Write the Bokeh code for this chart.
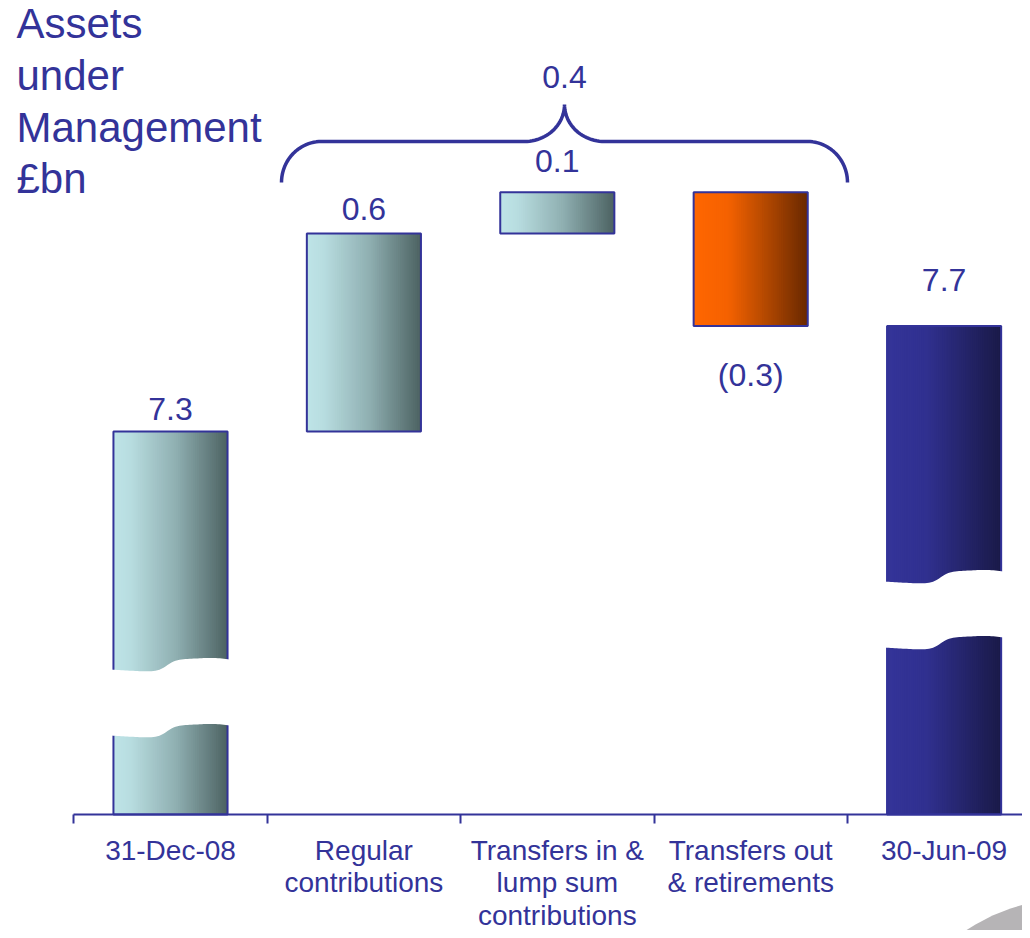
import numpy as np
from bokeh.plotting import figure
from bokeh.models import Range1d, LinearAxis, FixedTicker
from bokeh.core.properties import value
from bokeh.embed import file_html
from bokeh.resources import INLINE

# ---------------- data ----------------
title_lines = ["Assets", "under", "Management", "£bn"]
categories = ["31-Dec-08", "Regular\ncontributions", "Transfers in &\nlump sum\ncontributions",
              "Transfers out\n& retirements", "30-Jun-09"]
label_values = [7.3, 0.6, 0.1, -0.3, 7.7]     # printed values (£bn)
net_change_label = 0.4                         # printed over the brace
start_total = 7.30                             # drawn levels
changes = [0.600, 0.125, -0.405]
end_total = 7.62
bar_kind = ["teal", "teal", "teal", "orange", "blue"]

# ---------------- layout helpers (pixel -> data) ----------------
FONT = value("Liberation Sans")
BLUE = "#333399"
W, H = 1022, 930
X_TICK0, X_STEP = 73.3, 193.4        # x of first category boundary, px per category
Y_REF, KY = 431.0, 330.0             # y of start_total, px per £bn
BASE_SHIFT = 0.38                    # em offset of rendered alphabetic baseline


def dx(px):
    return (px - X_TICK0) / X_STEP - 0.5


def dy(py):
    return start_total + (Y_REF - py) / KY


def ty(baseline_px, fs):
    return dy(baseline_px - BASE_SHIFT * fs)


floor = dy(814)

# bar extents
bottoms, tops = [floor], [start_total]
level = start_total
for c in changes:
    bottoms.append(min(level, level + c))
    tops.append(max(level, level + c))
    level += c
bottoms.append(floor)
tops.append(end_total)

BAR_W = 0.59
stops = {
    "teal": [(0.0, "#BEE4E7"), (0.15, "#B8DDE0"), (0.55, "#8FAFB1"), (1.0, "#4C6262")],
    "orange": [(0.0, "#FF6600"), (0.3, "#F56200"), (0.65, "#B04700"), (1.0, "#682800")],
    "blue": [(0.0, "#343499"), (0.35, "#30308F"), (1.0, "#1A1A48")],
}


def hex2rgb(h):
    return np.array([int(h[i:i + 2], 16) for i in (1, 3, 5)], dtype=float)


def grad(kind, t):
    st = stops[kind]
    for (t0, c0), (t1, c1) in zip(st[:-1], st[1:]):
        if t0 <= t <= t1:
            f = (t - t0) / (t1 - t0)
            rgb = hex2rgb(c0) * (1 - f) + hex2rgb(c1) * f
            return "#%02x%02x%02x" % tuple(int(round(v)) for v in rgb)
    return st[-1][1]


p = figure(width=W, height=H,
           x_range=Range1d(dx(0), dx(W)), y_range=Range1d(dy(H), dy(0)),
           output_backend="svg", toolbar_location=None,
           x_axis_location=None, y_axis_location=None, min_border=0)
p.outline_line_color = None
p.background_fill_color = "white"
p.border_fill_color = "white"
p.grid.grid_line_color = None

# gradient strips (each strip runs to the bar's right edge to avoid seams)
N = 60
L, R, B, T, C = [], [], [], [], []
for i in range(len(categories)):
    x0 = i - BAR_W / 2
    x1 = i + BAR_W / 2
    w = BAR_W / N
    for k in range(N):
        L.append(x0 + k * w)
        R.append(x1)
        B.append(bottoms[i])
        T.append(tops[i])
        C.append(grad(bar_kind[i], (k + 0.5) / N))
p.quad(left=L, right=R, bottom=B, top=T, fill_color=C, line_color=None)

# outlines
p.quad(left=[i - BAR_W / 2 for i in range(5)], right=[i + BAR_W / 2 for i in range(5)],
       bottom=bottoms, top=tops, fill_color=None, line_color=BLUE, line_width=2)

# axis breaks (white wavy bands)
break_top = {0: dy(669), 4: dy(581)}
band = 66 / KY


def wave(t):
    return (13 / (1 + np.exp(-(t - 0.47) / 0.04)) - 2.5 * np.sin(np.pi * t)
            - 3 * np.clip((t - 0.78) / 0.22, 0, 1) ** 2) / KY


for i, yb in break_top.items():
    t = np.linspace(0, 1, 60)
    xs = (i - BAR_W / 2 - 0.012) + t * (BAR_W + 0.024)
    top_curve = yb + wave(t)
    bot_curve = yb - band + wave(t)
    p.patch(list(xs) + list(xs[::-1]), list(top_curve) + list(bot_curve[::-1]),
            fill_color="white", line_color=None)


# value labels
def fmt(v):
    return f"{v:.1f}" if v >= 0 else f"({abs(v):.1f})"


FS = 32
gap_px = [10, 12, 19, 61, 34]
lx, ly, lt = [], [], []
for i, v in enumerate(label_values):
    lx.append(i)
    if v >= 0 or i in (0, 4):
        ly.append(tops[i] + (gap_px[i] + BASE_SHIFT * FS) / KY)
    else:
        ly.append(bottoms[i] - (gap_px[i] - BASE_SHIFT * FS) / KY)
    lt.append(fmt(v))
p.text(x=lx, y=ly, text=lt, text_font=FONT, text_font_size=f"{FS}px", text_color=BLUE,
       text_align="center", text_baseline="alphabetic")


# brace with net change
def brace(xl, xr, y_end, y_mid, y_tip, r=40):
    xm = (xl + xr) / 2
    th = np.linspace(0, np.pi / 2, 25)
    pts = []
    for a in th:
        pts.append((xl + r - r * np.cos(a), y_end - (y_end - y_mid) * np.sin(a)))
    for a in th:
        pts.append((xm - r + r * np.sin(a), y_tip + (y_mid - y_tip) * np.cos(a)))
    for a in th[::-1]:
        pts.append((xm + r - r * np.sin(a), y_tip + (y_mid - y_tip) * np.cos(a)))
    for a in th[::-1]:
        pts.append((xr - r + r * np.cos(a), y_end - (y_end - y_mid) * np.sin(a)))
    return [dx(a) for a, _ in pts], [dy(b) for _, b in pts]


bx, by = brace(281, 847, 182, 141, 104, r=40)
p.line(bx, by, line_color=BLUE, line_width=3.5)
p.text(x=[dx(564)], y=[ty(89, FS)], text=[fmt(net_change_label)], text_font=FONT,
       text_font_size=f"{FS}px", text_color=BLUE, text_align="center", text_baseline="alphabetic")

# title (y-axis caption)
TFS = 42
p.text(x=[dx(16)] * 4, y=[ty(b, TFS) for b in (39, 91, 143, 194)], text=title_lines,
       text_font=FONT, text_font_size=f"{TFS}px", text_color=BLUE,
       text_align="left", text_baseline="alphabetic")

# decorative swoosh bottom-right
sw = [(953, 940), (962, 932), (975, 924), (992, 915), (1010, 908), (1030, 902), (1030, 940)]
p.patch([dx(a) for a, _ in sw], [dy(b) for _, b in sw], fill_color="#B6B4B6", line_color=None)

# category axis
ax = LinearAxis(ticker=FixedTicker(ticks=list(range(5)), minor_ticks=[-0.5, 0.5, 1.5, 2.5, 3.5]),
                fixed_location=floor, bounds=(-0.5, dx(W + 20)))
ax.major_label_overrides = {i: c for i, c in enumerate(categories)}
ax.axis_line_color = BLUE
ax.axis_line_width = 2
ax.major_tick_out = 0
ax.major_tick_in = 0
ax.minor_tick_out = 9
ax.minor_tick_in = 0
ax.minor_tick_line_color = BLUE
ax.minor_tick_line_width = 2
ax.major_label_text_font = "Liberation Sans"
ax.major_label_text_font_size = "28px"
ax.major_label_text_line_height = 1.05
ax.major_label_text_color = BLUE
ax.major_label_standoff = 11
p.add_layout(ax, "below")

open("out.html", "w").write(file_html(p, INLINE))
